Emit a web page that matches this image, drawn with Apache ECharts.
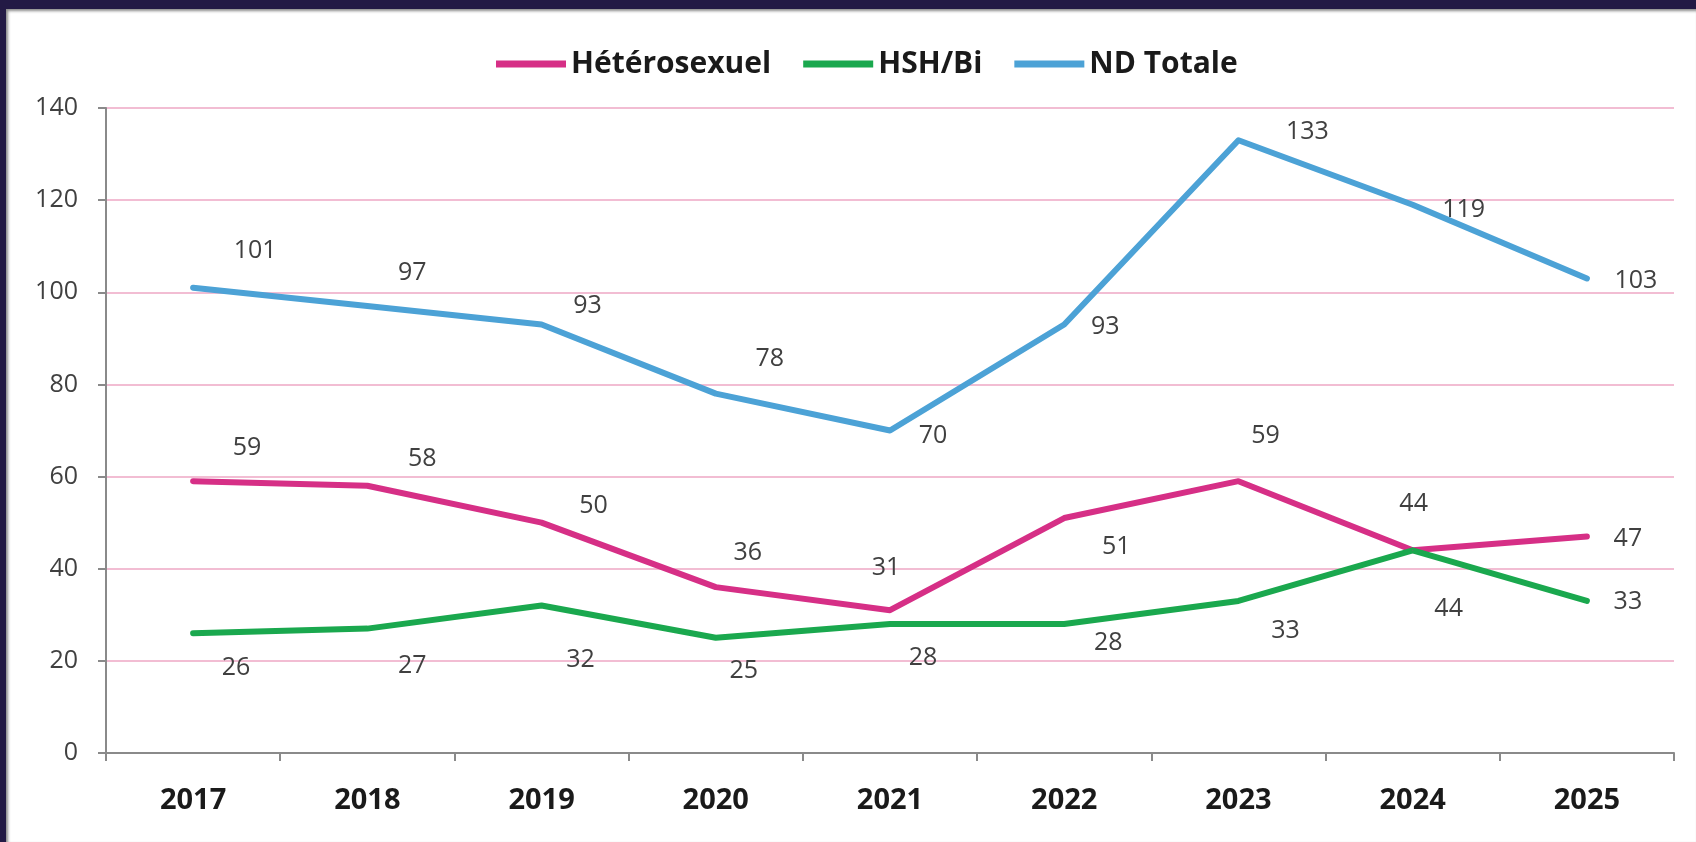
<!DOCTYPE html>
<html>
<head>
<meta charset="utf-8">
<title>ND Totale</title>
<script src="https://cdn.jsdelivr.net/npm/echarts@6/dist/echarts.min.js"></script>
<style>
html,body{margin:0;padding:0;background:#231a45;overflow:hidden;}
#frame{position:absolute;left:6px;top:9px;width:1690px;height:833px;background:#fff;box-shadow:inset 2px 2px 3px #8a8a8a;}
#chart{width:100%;height:100%;}
</style>
</head>
<body>
<div id="frame"><div id="chart"></div></div>
<script>
// données
var years = ['2017','2018','2019','2020','2021','2022','2023','2024','2025'];
var hetero = [59, 58, 50, 36, 31, 51, 59, 44, 47];
var hsh = [26, 27, 32, 25, 28, 28, 33, 44, 33];
var total = [101, 97, 93, 78, 70, 93, 133, 119, 103];
var yMin = 0, yMax = 140, yStep = 20;

// décalage des étiquettes (px, par rapport au point)
var heteroOff = [[54,-33],[55,-27],[52,-17],[32,-34],[-4,-42],[52,29],[27,-45],[1,-46],[41,2]];
var hshOff = [[43,35],[45,37],[39,54],[28,33],[33,34],[44,19],[47,30],[36,59],[41,1]];
var totalOff = [[62,-37],[45,-33],[46,-19],[54,-35],[43,5],[41,2],[69,-8],[51,5],[49,2]];

var font = "'Open Sans', 'Liberation Sans', sans-serif";

function withLabels(values, offs){
    return values.map(function(v, i){
        return {value: v, label: {offset: offs[i]}};
    });
}

function makeSeries(name, values, offs, color){
    return {
        name: name,
        type: 'line',
        data: withLabels(values, offs),
        symbol: 'circle',
        symbolSize: 1,
        lineStyle: {width: 6, color: color, join: 'round', cap: 'round'},
        itemStyle: {color: color},
        label: {
            show: true,
            position: 'inside',
            fontSize: 25,
            color: '#404040',
            fontFamily: font
        },
        emphasis: {disabled: true}
    };
}

var myChart = echarts.init(document.getElementById('chart'));
var option = {
    animation: false,
    color: ['#d62f86', '#1aa84e', '#4ca2d6'],
    legend: {
        left: 485,
        top: 35,
        icon: 'rect',
        itemWidth: 70,
        itemHeight: 7,
        itemGap: 32,
        data: ['Hétérosexuel', 'HSH/Bi', 'ND Totale'],
        textStyle: {fontSize: 30, fontWeight: 'bold', color: '#1a1a1a', fontFamily: font}
    },
    grid: {left: 100, right: 22, top: 99, bottom: 89},
    xAxis: {
        type: 'category',
        data: years,
        boundaryGap: true,
        axisLine: {show: true, lineStyle: {color: '#8a8a8a', width: 2}},
        axisTick: {show: true, length: 8, lineStyle: {color: '#8a8a8a', width: 2}},
        axisLabel: {fontSize: 29, fontWeight: 'bold', color: '#1a1a1a', margin: 33, fontFamily: font},
        splitLine: {show: false}
    },
    yAxis: {
        type: 'value',
        min: yMin,
        max: yMax,
        interval: yStep,
        axisLine: {show: true, lineStyle: {color: '#8a8a8a', width: 2}},
        axisTick: {show: true, length: 8, lineStyle: {color: '#8a8a8a', width: 2}},
        axisLabel: {fontSize: 25, color: '#404040', margin: 28, fontFamily: font},
        splitLine: {show: true, lineStyle: {color: '#f2bdd3', width: 2}}
    },
    series: [
        makeSeries('Hétérosexuel', hetero, heteroOff, '#d62f86'),
        makeSeries('HSH/Bi', hsh, hshOff, '#1aa84e'),
        makeSeries('ND Totale', total, totalOff, '#4ca2d6')
    ]
};
myChart.setOption(option);
</script>
</body>
</html>
